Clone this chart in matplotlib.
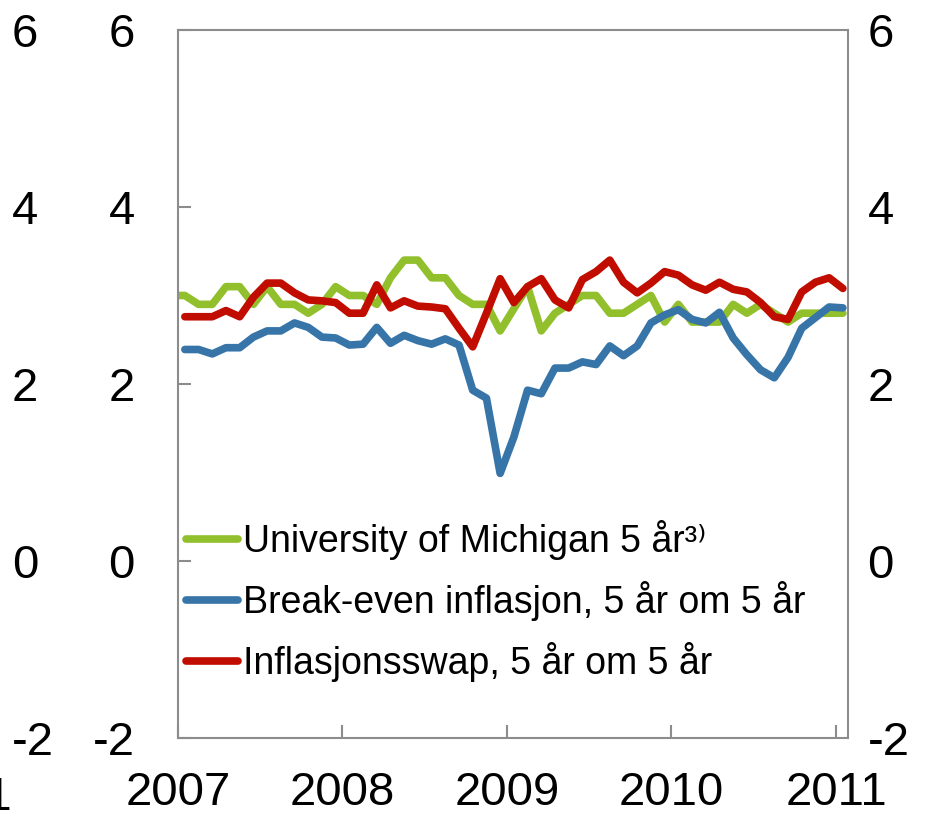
import numpy as np
import matplotlib
matplotlib.use('Agg')
import matplotlib.pyplot as plt
import matplotlib.transforms as mtransforms

plt.rcParams['font.family'] = ['Liberation Sans', 'DejaVu Sans']

# monthly data, Dec 2006 - Jan 2011 (michigan), Jan 2007 - Jan 2011 (others)
michigan = [3.0,
            3.0, 2.9, 2.9, 3.1, 3.1, 2.9, 3.1, 2.9, 2.9, 2.8, 2.9, 3.1,
            3.0, 3.0, 2.9, 3.2, 3.4, 3.4, 3.2, 3.2, 3.0, 2.9, 2.9, 2.6,
            2.85, 3.1, 2.6, 2.8, 2.9, 3.0, 3.0, 2.8, 2.8, 2.9, 3.0, 2.7,
            2.9, 2.7, 2.7, 2.7, 2.9, 2.8, 2.9, 2.8, 2.7, 2.8, 2.8, 2.8,
            2.8]
breakeven = [2.39, 2.39, 2.34, 2.41, 2.41, 2.53, 2.60, 2.60, 2.69, 2.64, 2.53, 2.52,
             2.44, 2.45, 2.64, 2.46, 2.55, 2.49, 2.45, 2.51, 2.44, 1.93, 1.84, 0.99,
             1.40, 1.93, 1.89, 2.18, 2.18, 2.25, 2.22, 2.43, 2.32, 2.43, 2.69, 2.78,
             2.84, 2.73, 2.69, 2.81, 2.52, 2.33, 2.16, 2.07, 2.30, 2.63, 2.75, 2.87,
             2.86]
swap = [2.76, 2.76, 2.76, 2.83, 2.76, 2.98, 3.14, 3.14, 3.03, 2.95, 2.94, 2.92,
        2.80, 2.80, 3.12, 2.86, 2.94, 2.88, 2.87, 2.85, 2.63, 2.42, 2.80, 3.19,
        2.92, 3.10, 3.19, 2.95, 2.86, 3.18, 3.27, 3.40, 3.15, 3.03, 3.14, 3.27,
        3.23, 3.12, 3.06, 3.15, 3.07, 3.04, 2.92, 2.76, 2.73, 3.04, 3.15, 3.20,
        3.08]

years = [2007, 2008, 2009, 2010, 2011]
yticks = [-2, 0, 2, 4, 6]

# mid-month positions as decimal years
x_mich = 2007 + (np.arange(len(michigan)) - 1 + 0.5) / 12
x_oth = 2007 + (np.arange(len(swap)) + 0.5) / 12

fig = plt.figure(figsize=(9.32, 8.15), dpi=100)
ax = fig.add_axes([178/932, 1 - 738/815, 670/932, 708/815])

lw = 5.5
ax.plot(x_mich, michigan, color='#92C02D', lw=lw, solid_capstyle='round',
        label='University of Michigan 5 år³⁾')
ax.plot(x_oth, breakeven, color='#3774A8', lw=lw, solid_capstyle='round',
        label='Break-even inflasjon, 5 år om 5 år')
ax.plot(x_oth, swap, color='#C00D00', lw=lw, solid_capstyle='round',
        label='Inflasjonsswap, 5 år om 5 år')

ax.set_xlim(2007, 2011.073)
ax.set_ylim(-2, 6)
ax.set_xticks(years)
ax.set_xticklabels([str(y) for y in years])
ax.set_yticks(yticks)
ax.set_yticklabels([str(v) for v in yticks])

for s in ax.spines.values():
    s.set_color('#8c8c8c')
    s.set_linewidth(1.5)
ax.tick_params(axis='both', direction='in', length=9.5, width=1.5, color='#8c8c8c',
               labelsize=34)
ax.tick_params(axis='x', pad=24)
ax.tick_params(axis='y', pad=31, right=True)

ax2 = ax.twinx()
ax2.set_ylim(-2, 6)
ax2.set_yticks(yticks)
ax2.set_yticklabels([str(v) for v in yticks])
ax2.tick_params(axis='y', direction='in', length=0, labelsize=34, pad=14)
for s in ax2.spines.values():
    s.set_visible(False)

# labels left over from the neighbouring panel
trans = mtransforms.blended_transform_factory(fig.transFigure, ax.transData)
for v in yticks:
    ax.text(12/932, v, str(v), transform=trans, ha='left', va='center_baseline',
            fontsize=34, clip_on=False)
fig.text(12/932, 1 - 793/815, '2011', ha='right', va='center_baseline', fontsize=34)

ax.legend(loc='lower left', bbox_to_anchor=(0.0, 0.069), frameon=False, fontsize=27,
          handlelength=1.4, handletextpad=0.13, labelspacing=0.55,
          borderaxespad=0.0, borderpad=0.2)

fig.savefig('out.png', dpi=100)
